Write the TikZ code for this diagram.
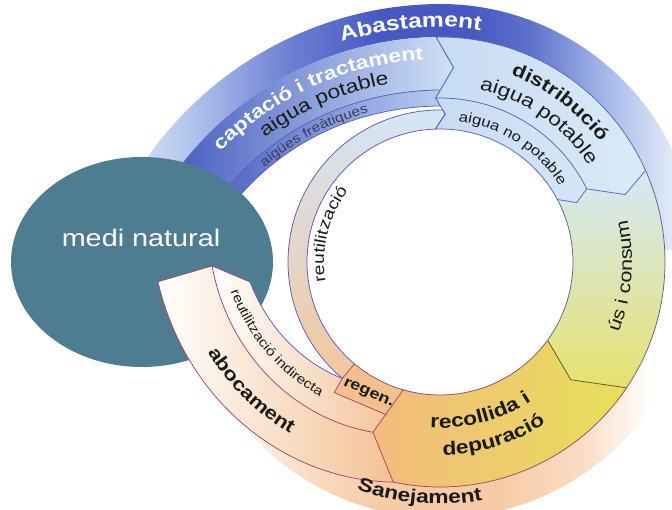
\documentclass[tikz,border=0pt]{standalone}
\usepackage{fontspec}
\setmainfont{Liberation Sans}[FakeStretch=1.2]
\usetikzlibrary{decorations.text}
\definecolor{abA}{HTML}{D6E2F5}
\definecolor{abB}{HTML}{B3C5EE}
\definecolor{abC}{HTML}{6C7ED2}
\definecolor{abD}{HTML}{4759C1}
\definecolor{abE}{HTML}{5D70CA}
\definecolor{abF}{HTML}{A6B9E9}
\definecolor{abG}{HTML}{E4ECF8}
\pgfdeclarehorizontalshading{abast}{100bp}{color(0bp)=(abA); color(25bp)=(abA); color(30bp)=(abB); color(39bp)=(abC); color(47bp)=(abD); color(55bp)=(abD); color(60bp)=(abE); color(67bp)=(abF); color(73bp)=(abG); color(100bp)=(abG)}
\definecolor{sjB}{HTML}{F6CBA6}
\definecolor{sjC}{HTML}{F9DCC4}
\pgfdeclarehorizontalshading{sanej}{100bp}{color(0bp)=(white); color(25bp)=(white); color(35bp)=(sjC); color(43bp)=(sjB); color(55bp)=(sjB); color(64bp)=(sjC); color(72bp)=(white); color(100bp)=(white)}
\definecolor{captA}{HTML}{3E54BC}
\definecolor{captM}{HTML}{8599DD}
\definecolor{captB}{HTML}{D0E1F6}
\definecolor{freA}{HTML}{4A5DC1}
\definecolor{freB}{HTML}{B8CBF0}
\definecolor{distA}{HTML}{C7DBF3}
\definecolor{distB}{HTML}{DAEAF8}
\definecolor{usA}{HTML}{D5E8F7}
\definecolor{usM}{HTML}{E0EBC8}
\definecolor{usB}{HTML}{E6E26E}
\definecolor{recA}{HTML}{F3BA7E}
\definecolor{recM}{HTML}{F0CD62}
\definecolor{recB}{HTML}{E7E05A}
\definecolor{regC}{HTML}{F2C08C}
\definecolor{aboM}{HTML}{F9E0CA}
\definecolor{aboB}{HTML}{F4C295}
\definecolor{riM}{HTML}{F8DFC8}
\definecolor{riB}{HTML}{F3C59C}
\definecolor{thinT}{HTML}{D3E6F6}
\definecolor{thinM}{HTML}{EFE6DD}
\definecolor{thinB}{HTML}{F2C79F}
\definecolor{medi}{HTML}{4E7C91}
\definecolor{lineB}{HTML}{5563C0}
\definecolor{lineP}{HTML}{5F5AB0}
\definecolor{lineU}{HTML}{5D6478}
\definecolor{lineO}{HTML}{5A5535}
\definecolor{lineR}{HTML}{A8445E}
\definecolor{txt}{HTML}{1A1A1A}
\definecolor{txtG}{HTML}{3B3F55}
\begin{document}
\begin{tikzpicture}[x=1pt,y=1pt,
  declare function={
    sp(\a)=0.011*max((\a)-91,0)*max((\a)-91,0);
    rbo(\a)=225+0.78*(-102-(\a));
    rbs(\a)=183+0.6667*(-111.5-(\a));
    rbi(\a)=152+0.886*(-130-(\a));
  },
  segline/.style={line width=0.75pt, line join=round},
  ctext/.style={decorate, decoration={text along path, text align=center, text={#1}}}
]
\useasboundingbox (0,0) rectangle (672,510);
\begin{scope}[shift={(440,248)}]
% outer bands
\shade[shading=abast]
  plot[domain=165:91,samples=50,variable=\t] (\t:{258+sp(\t)})
  arc[start angle=91,end angle=3,radius=258]
  -- (3:225) arc[start angle=3,end angle=91,radius=225]
  -- plot[domain=91:165,samples=50,variable=\t] (\t:{225+sp(\t)}) -- cycle;
\shade[shading=sanej] (-150:225) arc[start angle=-150,end angle=-20,radius=225]
  -- (-20:256) arc[start angle=-20,end angle=-150,radius=256] -- cycle;
% captacio
\shade[left color=captA, middle color=captM, right color=captB]
  plot[domain=170:91,samples=50,variable=\t] (\t:{225+sp(\t)})
  -- (86:195) -- (91.5:164) -- (89.75:156)
  -- plot[domain=91:170,samples=50,variable=\t] (\t:{156+sp(\t)}) -- cycle;
\shade[left color=freA, right color=freB]
  plot[domain=170:90.1,samples=50,variable=\t] (\t:{172+sp(\t)})
  -- (91.5:164) -- (89.75:156)
  -- plot[domain=91:170,samples=50,variable=\t] (\t:{156+sp(\t)}) -- cycle;
\draw[segline, lineB] plot[domain=90.1:170,samples=50,variable=\t] (\t:{172+sp(\t)});
\draw[segline, lineB] (91:225) -- (86:195) -- (91.5:164) -- (89.75:156)
  -- plot[domain=91:170,samples=50,variable=\t] (\t:{156+sp(\t)});
\end{scope}
% medi natural
\fill[medi] (142,248) ellipse [x radius=131, y radius=105];
\begin{scope}[shift={(440,248)}]
% thin band (reutilitzacio)
\shade[top color=thinT, middle color=thinM, bottom color=thinB]
  (230:133) arc[start angle=230,end angle=92,radius=133] -- (88:148) -- (88.9:152)
  arc[start angle=88.9,end angle=230,radius=152] -- cycle;
% distribucio
\shade[left color=distA, right color=distB]
  (91:225) arc[start angle=91,end angle=24,radius=225] -- (20:197) -- (26.5:164) -- (23.5:149) -- (28:133)
  arc[start angle=28,end angle=92,radius=133] -- (88:148) -- (91.5:164) -- (86:195) -- cycle;
% us i consum
\shade[top color=usA, middle color=usM, bottom color=usB]
  (24:225) arc[start angle=24,end angle=-34,radius=225] -- (-42:176) -- (-36:133)
  arc[start angle=-36,end angle=28,radius=133] -- (23.5:149) -- (26.5:164) -- (20:197) -- cycle;
% recollida
\shade[left color=recA, middle color=recM, right color=recB]
  (-34:225) arc[start angle=-34,end angle=-102,radius=225] -- (-111.5:183) -- (-106:133)
  arc[start angle=-106,end angle=-36,radius=133] -- (-42:176) -- cycle;
% regen
\fill[regC] (-106:133) arc[start angle=-106,end angle=-130,radius=133] -- (-130:152) -- (-129:168) -- (-109.2:162) -- cycle;
% reutilitzacio indirecta
\shade[left color=white, middle color=riM, right color=riB]
  (-130:152) -- (-129:168) -- (-109.2:162) -- (-111.5:183)
  -- plot[domain=-111.5:-179,samples=50,variable=\t] (\t:{rbs(\t)})
  -- (-174:191) -- plot[domain=-174:-130,samples=50,variable=\t] (\t:{rbi(\t)}) -- cycle;
% abocament
\shade[left color=white, middle color=aboM, right color=aboB]
  (-102:225) -- plot[domain=-102:-176,samples=50,variable=\t] (\t:{rbo(\t)})
  -- (-179:228) -- plot[domain=-179:-111.5,samples=50,variable=\t] (\t:{rbs(\t)}) -- cycle;
% outlines
\draw[segline, lineP] (230:133) arc[start angle=230,end angle=92,radius=133] -- (88:148) -- (88.9:152)
  arc[start angle=88.9,end angle=230,radius=152];
\draw[segline, lineB] (91:225) arc[start angle=91,end angle=24,radius=225] -- (20:197) -- (26.5:164) -- (23.5:149) -- (28:133)
  arc[start angle=28,end angle=92,radius=133] -- (88:148) -- (91.5:164) -- (86:195) -- cycle;
\draw[segline, lineB] (91.5:164) arc[start angle=91.5,end angle=26.5,radius=164];
\draw[segline, lineU] (24:225) arc[start angle=24,end angle=-34,radius=225];
\draw[segline, lineU] (-36:133) arc[start angle=-36,end angle=28,radius=133];
\draw[segline, lineO] (-34:225) -- (-42:176) -- (-36:133);
\draw[segline, lineR] (-34:225) arc[start angle=-34,end angle=-102,radius=225] -- (-111.5:183) -- (-106:133)
  arc[start angle=-106,end angle=-36,radius=133];
\draw[segline, lineR] (-106:133) arc[start angle=-106,end angle=-130,radius=133] -- (-130:152) -- (-129:168) -- (-109.2:162);
\draw[segline, lineR] (-111.5:183) -- plot[domain=-111.5:-179,samples=50,variable=\t] (\t:{rbs(\t)}) -- (-174:191);
\draw[segline, lineP] (-174:191) -- plot[domain=-174:-130,samples=50,variable=\t] (\t:{rbi(\t)});
\draw[segline, lineR] (-102:225) -- plot[domain=-102:-176,samples=50,variable=\t] (\t:{rbo(\t)}) -- (-179:228);
% texts
\path[ctext={|\fontsize{20.5}{24}\selectfont\bfseries|Abastament}, decoration={text color=white}]
  plot[domain=140:91,samples=40,variable=\t] (\t:{235+sp(\t)}) arc[start angle=91,end angle=52,radius=235];
\path[ctext={|\fontsize{19}{22}\selectfont\bfseries|Sanejament}, decoration={text color=txt}]
  (-125:242) arc[start angle=-125,end angle=-65,radius=242];
\path[ctext={|\fontsize{19}{22}\selectfont\bfseries|captació i tractament}, decoration={text color=white}]
  plot[domain=160:86,samples=60,variable=\t] (\t:{203+sp(\t)});
\path[ctext={|\fontsize{19}{22}\selectfont|aigua potable}, decoration={text color=txt}]
  plot[domain=160:86,samples=60,variable=\t] (\t:{183+sp(\t)});
\path[ctext={|\fontsize{13}{15}\selectfont|aigües freàtiques}, decoration={text color=txtG}]
  plot[domain=159.5:105,samples=50,variable=\t] (\t:{159+sp(\t)});
\path[ctext={|\fontsize{18.5}{22}\selectfont\bfseries|distribució}, decoration={text color=txt}]
  (83:200) arc[start angle=83,end angle=23,radius=200];
\path[ctext={|\fontsize{19}{22}\selectfont|aigua potable}, decoration={text color=txt}]
  (85:177) arc[start angle=85,end angle=25,radius=177];
\path[ctext={|\fontsize{14}{16}\selectfont|aigua no potable}, decoration={text color=txt}]
  (90:142) arc[start angle=90,end angle=25,radius=142];
\path[ctext={|\fontsize{18}{22}\selectfont|ús i consum}, decoration={text color=txt}]
  (-40:192) arc[start angle=-40,end angle=31.2,radius=192];
\path[ctext={|\fontsize{19}{22}\selectfont\bfseries|recollida i}, decoration={text color=txt}]
  (-110:166) arc[start angle=-110,end angle=-40,radius=166];
\path[ctext={|\fontsize{19}{22}\selectfont\bfseries|depuració}, decoration={text color=txt}]
  (-108:193) arc[start angle=-108,end angle=-38,radius=193];
\path[ctext={|\fontsize{18.5}{22}\selectfont\bfseries|abocament}, decoration={text color=txt}]
  plot[domain=-172:-116,samples=50,variable=\t] (\t:{rbo(\t)-20});
\path[ctext={|\fontsize{13}{15}\selectfont|reutilització indirecta}, decoration={text color=txt}]
  plot[domain=-176:-127,samples=50,variable=\t] (\t:{(rbi(\t)+rbs(\t))/2+5});
\path[ctext={|\fontsize{16}{19}\selectfont|reutilització}, decoration={text color=txt}]
  (192:116) arc[start angle=192,end angle=140,radius=116];
\node[rotate=-24, text=txt, font=\fontsize{15}{17}\selectfont\bfseries] (regen) at (-118.5:150) {regen.};
\end{scope}
\node[text=white, font=\fontsize{24}{28}\selectfont] (medinat) at (141,272) {medi natural};
\end{tikzpicture}
\end{document}
